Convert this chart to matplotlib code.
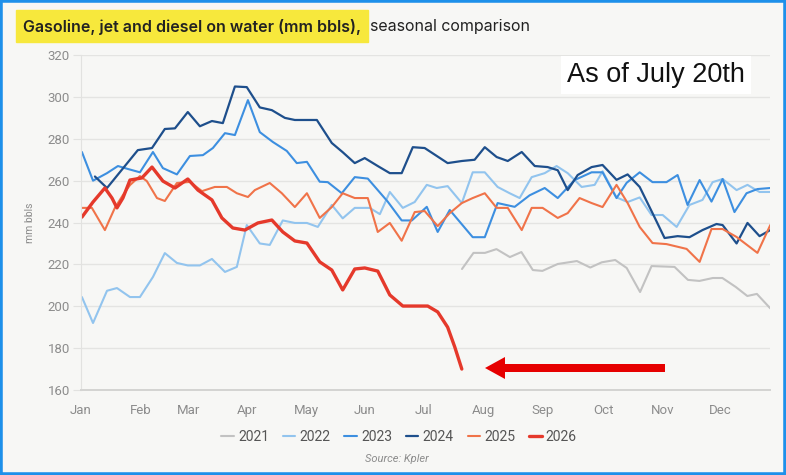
import matplotlib.pyplot as plt
from matplotlib.patches import Rectangle, FancyArrow

plt.rcParams['font.family'] = ['Roboto', 'DejaVu Sans']

# day-of-year positions and values (mm bbls)
days_2021 = [199, 205, 211, 217, 224, 230, 236, 241, 249, 259, 266, 272, 279,
             285, 292, 298, 310, 317, 323, 330, 335, 342, 348, 353, 360]
vals_2021 = [217.8, 225.5, 225.5, 227.3, 223.5, 225.9, 217.3, 216.9, 220.2, 221.6,
             218.5, 221.0, 222.1, 218.3, 206.8, 219.2, 218.8, 212.6, 212.1, 213.5,
             213.5, 209.2, 204.9, 205.9, 199.0]

days_2022 = [0.5, 6.3, 13.6, 18.8, 25.6, 30.8, 37.6, 43.8, 50.1, 55.8,
             62.1, 68.4, 75.2, 81.4, 86.6, 93.4, 98.6, 105.4, 111.7, 118,
             123.7, 131, 136.7, 143, 150.8, 156.1, 161.3, 168.1, 174.3, 180.6,
             185.8, 191.5, 198.9, 204.6, 210.9, 217.6, 223.9, 229.1, 235.4, 242.2,
             248.4, 254.2, 261.5, 268.3, 272.4, 279.7, 285.5, 291.8, 298, 303.8,
             311.1, 317.8, 324.6, 329.9, 335.1, 342.4, 348.1, 354.4, 360]
vals_2022 = [204.4, 192.0, 207.4, 208.7, 204.4, 204.4, 214.0, 225.4, 220.7, 219.5,
             219.5, 222.6, 216.4, 218.8, 238.8, 230.0, 229.3, 241.0, 239.8, 239.8,
             237.9, 248.4, 242.0, 247.0, 247.0, 244.0, 254.6, 247.0, 249.8, 258.0,
             256.5, 257.4, 249.3, 264.0, 264.0, 257.0, 254.0, 251.7, 261.7, 263.6,
             267.0, 263.6, 257.0, 258.0, 264.5, 252.0, 249.8, 252.0, 243.6, 243.6,
             237.9, 248.4, 250.8, 259.3, 260.8, 255.5, 258.0, 254.6, 254.6]

days_2023 = [0.5, 6.3, 13.6, 19.3, 24.5, 30.8, 37.6, 42.8, 50.1, 56.9,
             63.7, 68.9, 75.2, 80.4, 87.2, 93.4, 100.2, 107.5, 112.7, 118,
             124.7, 128.9, 136.2, 143, 149.8, 160.2, 167.5, 172.8, 180.6, 186.3,
             192.6, 204.6, 210.9, 217.6, 226.5, 234.3, 242.2, 249, 257.8, 266.7,
             272.4, 279.7, 285, 291.8, 298.5, 305.8, 311.6, 316.8, 323.1, 329.3,
             335.1, 341.3, 347.6, 353.3, 360]
vals_2023 = [273.7, 260.0, 263.6, 267.0, 265.6, 264.0, 273.7, 266.0, 263.0, 271.8,
             272.2, 275.6, 282.7, 281.8, 298.5, 283.2, 278.5, 274.2, 268.4, 269.0,
             259.5, 259.3, 254.0, 261.7, 261.0, 250.0, 241.0, 241.0, 247.5, 235.5,
             246.0, 233.0, 233.0, 249.3, 247.5, 253.0, 256.5, 251.7, 260.3, 264.0,
             264.0, 251.7, 259.0, 264.0, 259.3, 259.3, 262.7, 248.4, 260.3, 250.0,
             260.8, 245.0, 254.0, 256.0, 256.5]

days_2024 = [7.3, 13.6, 29.7, 37.1, 43.8, 49.1, 55.8, 62.1, 68.4, 74.1,
             80.4, 86.6, 93.4, 99.7, 106.5, 111.7, 123.2, 131, 136.7, 143,
             148.2, 155, 161.3, 167.5, 173.3, 179.5, 191.5, 198.9, 205.6, 210.9,
             217.1, 222.9, 230.2, 237, 243.7, 249, 254.2, 259.4, 266.7, 272.4,
             279.7, 285.5, 291.8, 298.5, 304.8, 311.6, 317.8, 324.6, 331.9, 335.1,
             342.4, 348.1, 354.4, 360]
vals_2024 = [262.0, 256.5, 274.6, 275.6, 284.7, 285.0, 292.8, 286.0, 288.5, 287.5,
             305.0, 304.7, 295.0, 293.7, 290.0, 289.0, 289.0, 278.0, 273.6, 268.4,
             270.8, 267.0, 263.6, 263.6, 276.0, 275.6, 268.4, 269.4, 270.0, 276.0,
             271.3, 269.4, 273.7, 267.0, 266.5, 265.0, 255.5, 262.7, 266.5, 267.5,
             260.4, 263.0, 257.0, 244.5, 232.6, 233.5, 233.0, 236.4, 239.3, 238.8,
             230.0, 239.8, 233.5, 236.4]

days_2025 = [0.5, 5.7, 12.5, 17.7, 21.9, 25.6, 30.8, 34.4, 39.7, 43.8,
             50.1, 56.9, 63.2, 69.9, 76.2, 81.4, 87.2, 90.8, 98.6, 104.9,
             111.7, 118, 124.7, 131, 136.7, 143, 149.8, 155, 161.3, 167.5,
             174.3, 179.5, 186.3, 192.6, 198.9, 204.6, 210.9, 217.1, 222.9, 230.2,
             235.4, 241.1, 249, 254.2, 260.4, 266.7, 272.4, 279.7, 285.5, 291.8,
             298.5, 305.8, 316.3, 323.1, 329.3, 335.1, 342.4, 353.3, 360]
vals_2025 = [247.0, 247.0, 236.4, 247.0, 253.1, 257.9, 262.2, 259.8, 251.7, 250.3,
             258.9, 259.4, 255.0, 257.0, 257.0, 254.0, 252.2, 255.5, 258.9, 254.0,
             247.4, 254.0, 242.2, 247.4, 254.0, 251.7, 251.7, 235.5, 239.8, 231.3,
             245.0, 245.5, 238.3, 244.5, 249.3, 251.7, 254.0, 247.0, 247.0, 236.4,
             247.0, 247.0, 242.2, 244.5, 251.7, 249.3, 247.4, 258.0, 249.3, 237.9,
             230.2, 229.7, 227.4, 221.2, 236.9, 236.9, 233.1, 225.5, 238.8]

days_2026 = [0.5, 6.3, 12.5, 16.2, 18.8, 21.9, 25.6, 31.8, 37.1, 42.8,
             49.1, 55.8, 61.1, 68.4, 73.6, 79.3, 85.6, 92.4, 99.7, 105.4,
             111.7, 118, 124.7, 131, 136.7, 143, 148.2, 155, 161.3, 168.1,
             181.1, 186.3, 191.5, 195.2, 198.9]
vals_2026 = [242.6, 249.8, 256.5, 251.7, 247.0, 251.7, 260.3, 261.3, 266.5, 259.8,
             256.5, 260.8, 255.5, 250.8, 242.2, 237.4, 236.4, 239.8, 241.2, 235.5,
             231.2, 230.2, 221.2, 217.3, 207.8, 217.8, 218.3, 216.8, 205.4, 200.1,
             200.1, 197.3, 190.0, 180.6, 170.0]

years = ['2021', '2022', '2023', '2024', '2025', '2026']
series_days = [days_2021, days_2022, days_2023, days_2024, days_2025, days_2026]
series_vals = [vals_2021, vals_2022, vals_2023, vals_2024, vals_2025, vals_2026]
colors = ['#c2c2c2', '#92c4ee', '#3d8fe0', '#1e4f8c', '#f07349', '#e5392b']
widths = [1.5, 1.5, 1.5, 1.6, 1.5, 2.4]

month_labels = ['Jan', 'Feb', 'Mar', 'Apr', 'May', 'Jun',
                'Jul', 'Aug', 'Sep', 'Oct', 'Nov', 'Dec']
month_pos = [0, 31, 56, 87, 118, 148, 179, 210, 241, 273, 304, 334]

bg = '#f7f7f5'
fig = plt.figure(figsize=(7.86, 4.75), dpi=100, facecolor=bg)
ax = fig.add_axes([0.103, 0.179, 0.877, 0.705], facecolor=bg)

for yr, d, v, c, w in zip(years, series_days, series_vals, colors, widths):
    ax.plot(d, v, color=c, lw=w, label=yr, solid_joinstyle='round',
            solid_capstyle='round')

ax.set_xlim(0, 360)
ax.set_ylim(160, 320)
ax.set_yticks(range(160, 321, 20))
ax.set_xticks(month_pos)
ax.set_xticklabels(month_labels)
ax.grid(axis='y', color='#e4e4e2', lw=1)
ax.set_axisbelow(True)
for s in ['top', 'right']:
    ax.spines[s].set_visible(False)
ax.spines['left'].set_color('#e2e2e0')
ax.spines['bottom'].set_color('#d4d4d2')
ax.spines['bottom'].set_linewidth(1.4)
ax.tick_params(axis='y', length=6, color='#e2e2e0', labelsize=9.5,
               labelcolor='#8c8c8c', pad=2)
ax.tick_params(axis='x', length=0, labelsize=9.5, labelcolor='#8c8c8c', pad=10)
ax.set_ylabel('mm bbls', fontsize=7.5, color='#8c8c8c', labelpad=9)

# title with highlighted part
fig.add_artist(Rectangle((16 / 786, 1 - 42 / 475), 352 / 786, 32 / 475,
                         transform=fig.transFigure, color='#f7e83c', zorder=0))
fig.text(23 / 786, 1 - 27 / 475, 'Gasoline, jet and diesel on water (mm bbls),',
         fontsize=11.5, fontweight='semibold', family='Inter', color='#222222',
         va='center', ha='left')
fig.text(370 / 786, 1 - 27 / 475, 'seasonal comparison',
         fontsize=11.5, family='Inter', color='#222222', va='center', ha='left')

fig.text(656 / 786, 1 - 75 / 475, 'As of July 20th', fontsize=19.5,
         family='Liberation Sans', color='#111111', ha='center', va='center',
         bbox=dict(facecolor='white', edgecolor='none', pad=4))

# red arrow pointing at the last 2026 point
fig.add_artist(FancyArrow(665 / 786, 1 - 368 / 475, -160 / 786, 0,
                          width=8 / 475, head_width=22 / 475, head_length=20 / 786,
                          length_includes_head=False, transform=fig.transFigure,
                          color='#e60000', lw=0))

fig.legend(loc='center', bbox_to_anchor=(399 / 786, 1 - 437 / 475), ncol=6,
           frameon=False, handlelength=0.9, handletextpad=0.3, columnspacing=1.0,
           fontsize=10, labelcolor='#555555')
fig.text(397 / 786, 1 - 459 / 475, 'Source: Kpler', fontsize=8, style='italic',
         color='#8c8c8c', ha='center', va='center')

fig.add_artist(Rectangle((0, 0), 1, 1, transform=fig.transFigure, fill=False,
                         ec='#1e90ea', lw=4))

fig.savefig('out.png', dpi=100, facecolor=bg)
